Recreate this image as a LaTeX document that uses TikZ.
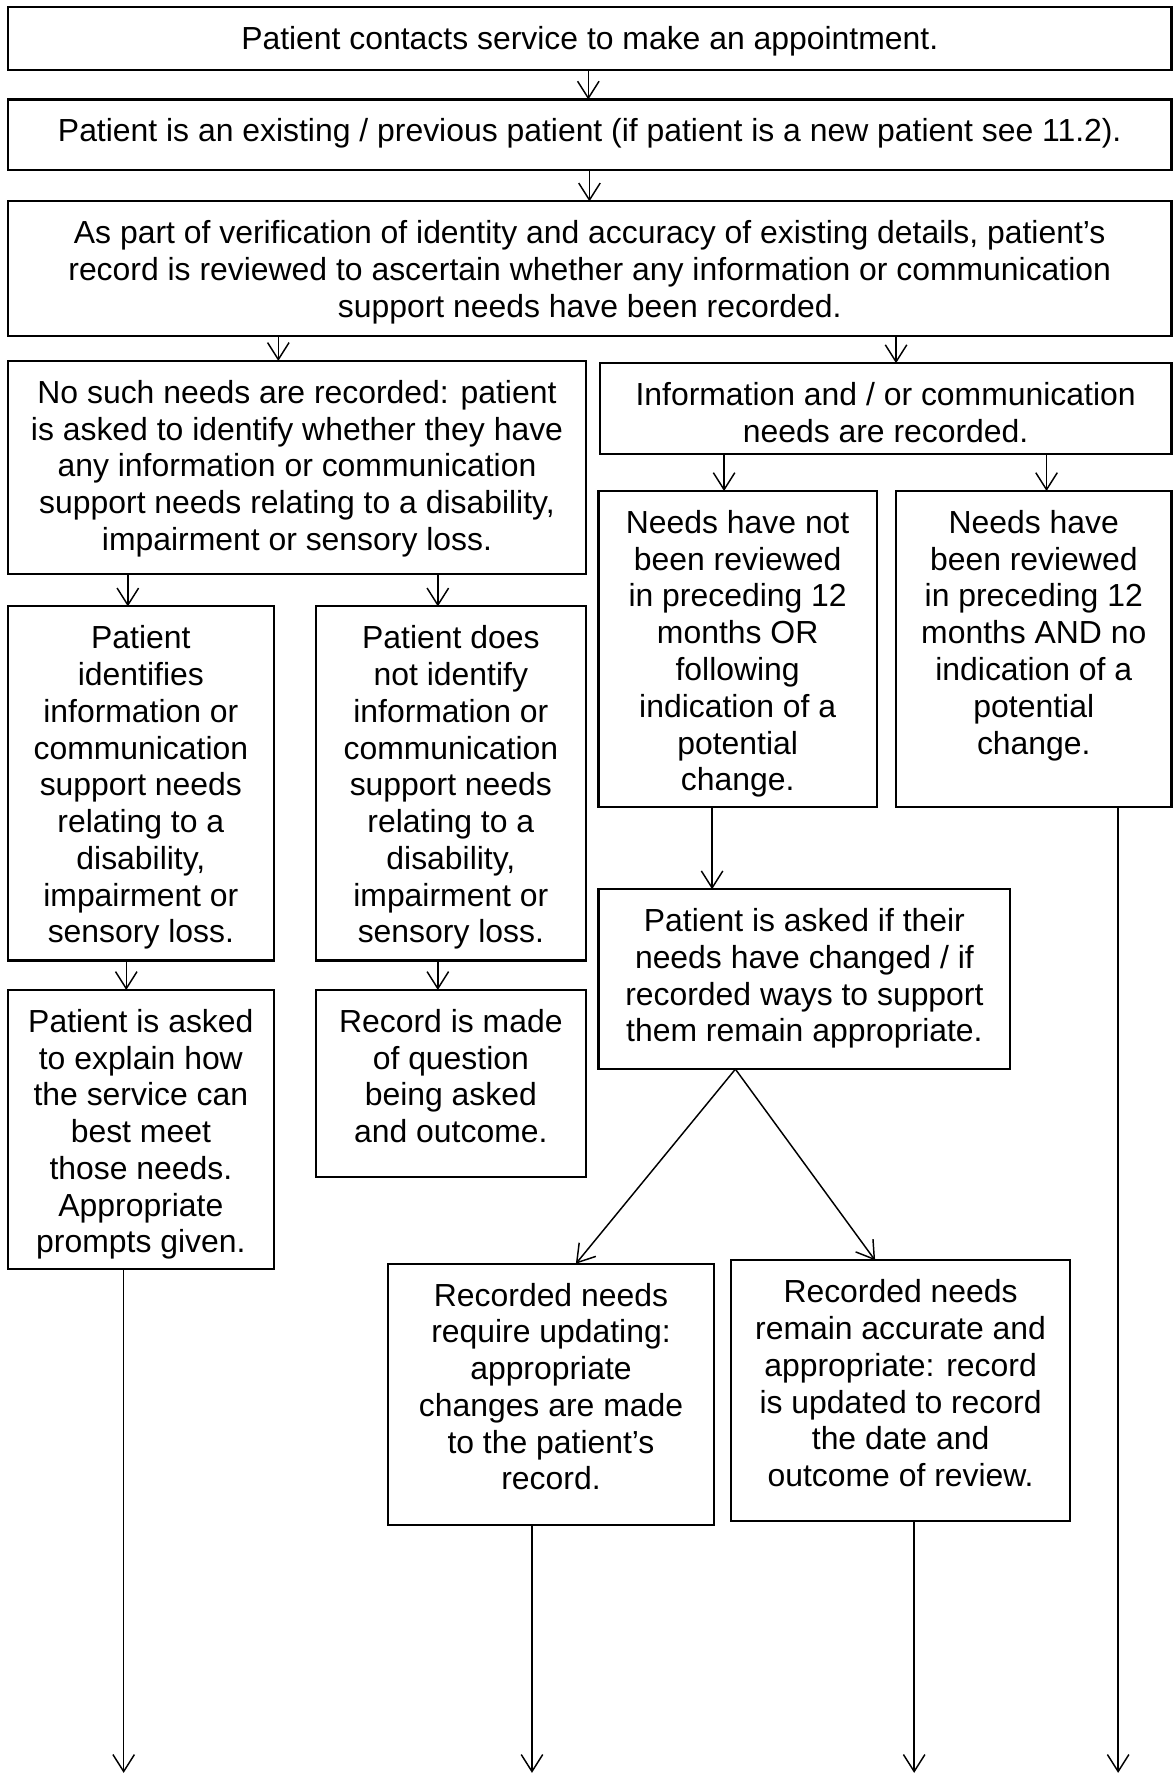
\documentclass[tikz,border=0pt]{standalone}
\usepackage{fontspec}
\setmainfont{Liberation Sans}
\usetikzlibrary{arrows.meta}
\tikzset{
  box/.style={draw=black, line width=1.9pt, rectangle, inner sep=0pt, outer sep=0pt, fill=white},
  txt/.style={align=center, inner xsep=0pt, inner ysep=0pt, font=\fontsize{28.2}{32.5}\selectfont},
  arr/.style={line width=1.3pt, -{Straight Barb[length=15pt,width=19pt]}}
}
\newcommand\mkbox[5]{\node[box, anchor=north west, minimum width={#4-#2}, minimum height={#5-#3}] (#1) at (#2,#3) {};}
\newcommand\mktext[2]{\node[txt, anchor=north] (#1t) at ([yshift=-14.5pt]#1.north) {\strut #2};}
\begin{document}
\begin{tikzpicture}[x=1pt,y=-1pt]
\useasboundingbox (0,0) rectangle (1037,1568);
% boxes
\mkbox{b1}{7}{6.5}{1035.5}{61.5}
\mkbox{b2}{7}{88}{1035.5}{150}
\mkbox{b3}{7}{178}{1035.5}{297}
\mkbox{b4}{7}{319}{518}{507}
\mkbox{bi}{530}{321}{1035.5}{401}
\mkbox{bn}{529}{434}{775}{713}
\mkbox{bh}{792}{434}{1035.5}{713}
\mkbox{b5}{7}{536}{242}{849}
\mkbox{b6}{279}{536}{518}{849}
\mkbox{b7}{7}{875}{242}{1122}
\mkbox{b8}{279}{875}{518}{1040}
\mkbox{b9}{529}{786}{893}{945}
\mkbox{b10}{343}{1117}{631}{1348}
\mkbox{b11}{646}{1114}{946}{1344}
% texts
\mktext{b1}{Patient contacts service to make an appointment.}
\mktext{b2}{Patient is an existing / previous patient (if patient is a new patient see 11.2).}
\mktext{b3}{As part of verification of identity and accuracy of existing details, patient’s\\record is reviewed to ascertain whether any information or communication\\support needs have been recorded.}
\mktext{b4}{No such needs are recorded: patient\\is asked to identify whether they have\\any information or communication\\support needs relating to a disability,\\impairment or sensory loss.}
\mktext{bi}{Information and / or communication\\needs are recorded.}
\mktext{bn}{Needs have not\\been reviewed\\in preceding 12\\months OR\\following\\indication of a\\potential\\change.}
\mktext{bh}{Needs have\\been reviewed\\in preceding 12\\months AND no\\indication of a\\potential\\change.}
\mktext{b5}{Patient\\identifies\\information or\\communication\\support needs\\relating to a\\disability,\\impairment or\\sensory loss.}
\mktext{b6}{Patient does\\not identify\\information or\\communication\\support needs\\relating to a\\disability,\\impairment or\\sensory loss.}
\mktext{b7}{Patient is asked\\to explain how\\the service can\\best meet\\those needs.\\Appropriate\\prompts given.}
\mktext{b8}{Record is made\\of question\\being asked\\and outcome.}
\mktext{b9}{Patient is asked if their\\needs have changed / if\\recorded ways to support\\them remain appropriate.}
\mktext{b10}{Recorded needs\\require updating:\\appropriate\\changes are made\\to the patient’s\\record.}
\mktext{b11}{Recorded needs\\remain accurate and\\appropriate: record\\is updated to record\\the date and\\outcome of review.}
% connector x positions
\coordinate (xa) at (520,0);
\coordinate (xb) at (521,0);
\coordinate (xc) at (246,0);
\coordinate (xd) at (792,0);
\coordinate (xe) at (640,0);
\coordinate (xf) at (925,0);
\coordinate (xg) at (113,0);
\coordinate (xh) at (387,0);
\coordinate (xk) at (111.6,0);
\coordinate (xm) at (629.4,0);
\coordinate (d0) at (650,0);
\coordinate (d1) at (509,0);
\coordinate (d2) at (773.5,0);
\coordinate (e1) at (109.3,1567);
\coordinate (e2) at (470.2,1567);
\coordinate (e3) at (808,1567);
\coordinate (e4) at (988.3,1567);
% connectors
\draw[arr] (b1.south -| xa) -- (b2.north -| xa);
\draw[arr] (b2.south -| xb) -- (b3.north -| xb);
\draw[arr] (b3.south -| xc) -- (b4.north -| xc);
\draw[arr] (b3.south -| xd) -- (bi.north -| xd);
\draw[arr] (bi.south -| xe) -- (bn.north -| xe);
\draw[arr] (bi.south -| xf) -- (bh.north -| xf);
\draw[arr] (b4.south -| xg) -- (b5.north -| xg);
\draw[arr] (b4.south -| xh) -- (b6.north -| xh);
\draw[arr] (b5.south -| xk) -- (b7.north -| xk);
\draw[arr] (b6.south -| xh) -- (b8.north -| xh);
\draw[arr] (bn.south -| xm) -- (b9.north -| xm);
\draw[arr] (b9.south -| d0) -- (b10.north -| d1);
\draw[arr] (b9.south -| d0) -- (b11.north -| d2);
\draw[arr] (b7.south -| e1) -- (e1);
\draw[arr] (b10.south -| e2) -- (e2);
\draw[arr] (b11.south -| e3) -- (e3);
\draw[arr] (bh.south -| e4) -- (e4);
\end{tikzpicture}
\end{document}
